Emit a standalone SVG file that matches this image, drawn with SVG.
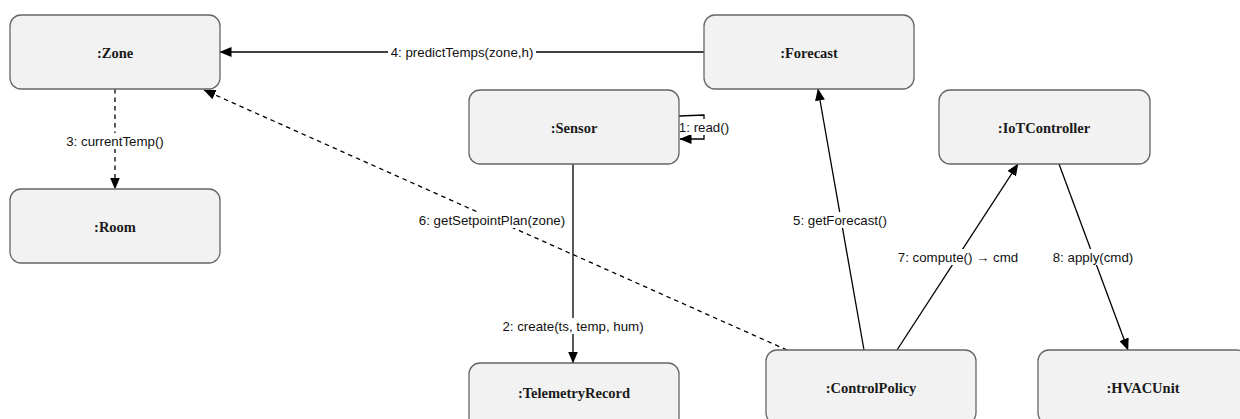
<svg xmlns="http://www.w3.org/2000/svg" width="1240" height="419" viewBox="0 0 1240 419">
  <style>
    .node rect { fill: #f2f2f2; stroke: #666666; stroke-width: 1.3; }
    .node text { font-family: "Liberation Serif", "Times New Roman", serif; font-weight: bold; font-size: 14.5px; fill: #1a1a1a; text-anchor: middle; dominant-baseline: central; }
    .edge { fill: none; stroke: #000000; stroke-width: 1.3; }
    .dashed { stroke-dasharray: 4.5 4; }
    .lbl rect { fill: #ffffff; }
    .lbl text { font-family: "Liberation Sans", Arial, Helvetica, sans-serif; font-size: 13.3px; fill: #111111; text-anchor: middle; dominant-baseline: central; }
  </style>
  <defs>
    <marker id="arrow" viewBox="0 0 12 10" refX="11.5" refY="5" markerWidth="12" markerHeight="10" markerUnits="userSpaceOnUse" orient="auto">
      <path d="M0,0 L12,5 L0,10 Z" fill="#000000"/>
    </marker>
  </defs>

  <rect width="1240" height="419" fill="#ffffff"/>

  <!-- connectors -->
  <g id="connectors">
    <path class="edge dashed" d="M115,89 L115,189" marker-end="url(#arrow)"/>
    <path class="edge" d="M704,52 L220,52" marker-end="url(#arrow)"/>
    <path class="edge" d="M679,116 L704,115 L704,139 L680,139" marker-end="url(#arrow)"/>
    <path class="edge" d="M573,164 L573,363" marker-end="url(#arrow)"/>
    <path class="edge" d="M864,350 L818,89" marker-end="url(#arrow)"/>
    <path class="edge dashed" d="M787,350 L204,90" marker-end="url(#arrow)"/>
    <path class="edge" d="M897,350 L1018,164" marker-end="url(#arrow)"/>
    <path class="edge" d="M1059,164 L1128,350" marker-end="url(#arrow)"/>

    <!-- message labels -->
    <g class="lbl"><rect x="63" y="133" width="104" height="16"/><text x="115" y="141">3: currentTemp()</text></g>
    <g class="lbl"><rect x="388" y="44" width="148" height="16"/><text x="462" y="52">4: predictTemps(zone,h)</text></g>
    <g class="lbl"><rect x="679" y="119" width="51" height="16"/><text x="704" y="127">1: read()</text></g>
    <g class="lbl"><rect x="501" y="318" width="144" height="16"/><text x="573" y="326">2: create(ts, temp, hum)</text></g>
    <g class="lbl"><rect x="792" y="212" width="97" height="16"/><text x="840" y="220">5: getForecast()</text></g>
    <g class="lbl"><rect x="417" y="212" width="151" height="16"/><text x="492" y="220">6: getSetpointPlan(zone)</text></g>
    <g class="lbl"><rect x="896" y="249" width="124" height="16"/><text x="958" y="257">7: compute() → cmd</text></g>
    <g class="lbl"><rect x="1052" y="249" width="82" height="16"/><text x="1093" y="257">8: apply(cmd)</text></g>
  </g>

  <!-- objects -->
  <g id="zone" class="node"><rect x="10" y="15" width="210" height="74" rx="11"/><text x="115" y="53">:Zone</text></g>
  <g id="room" class="node"><rect x="10" y="189" width="210" height="74" rx="11"/><text x="115" y="227">:Room</text></g>
  <g id="sensor" class="node"><rect x="469" y="90" width="210" height="74" rx="11"/><text x="574" y="128">:Sensor</text></g>
  <g id="forecast" class="node"><rect x="704" y="15" width="210" height="74" rx="11"/><text x="809" y="53">:Forecast</text></g>
  <g id="iotcontroller" class="node"><rect x="939" y="90" width="211" height="74" rx="11"/><text x="1044" y="128">:IoTController</text></g>
  <g id="telemetryrecord" class="node"><rect x="469" y="363" width="210" height="74" rx="11"/><text x="574" y="393">:TelemetryRecord</text></g>
  <g id="controlpolicy" class="node"><rect x="766" y="350" width="210" height="74" rx="11"/><text x="871" y="388">:ControlPolicy</text></g>
  <g id="hvacunit" class="node"><rect x="1038" y="350" width="210" height="74" rx="11"/><text x="1143" y="388">:HVACUnit</text></g>
</svg>
